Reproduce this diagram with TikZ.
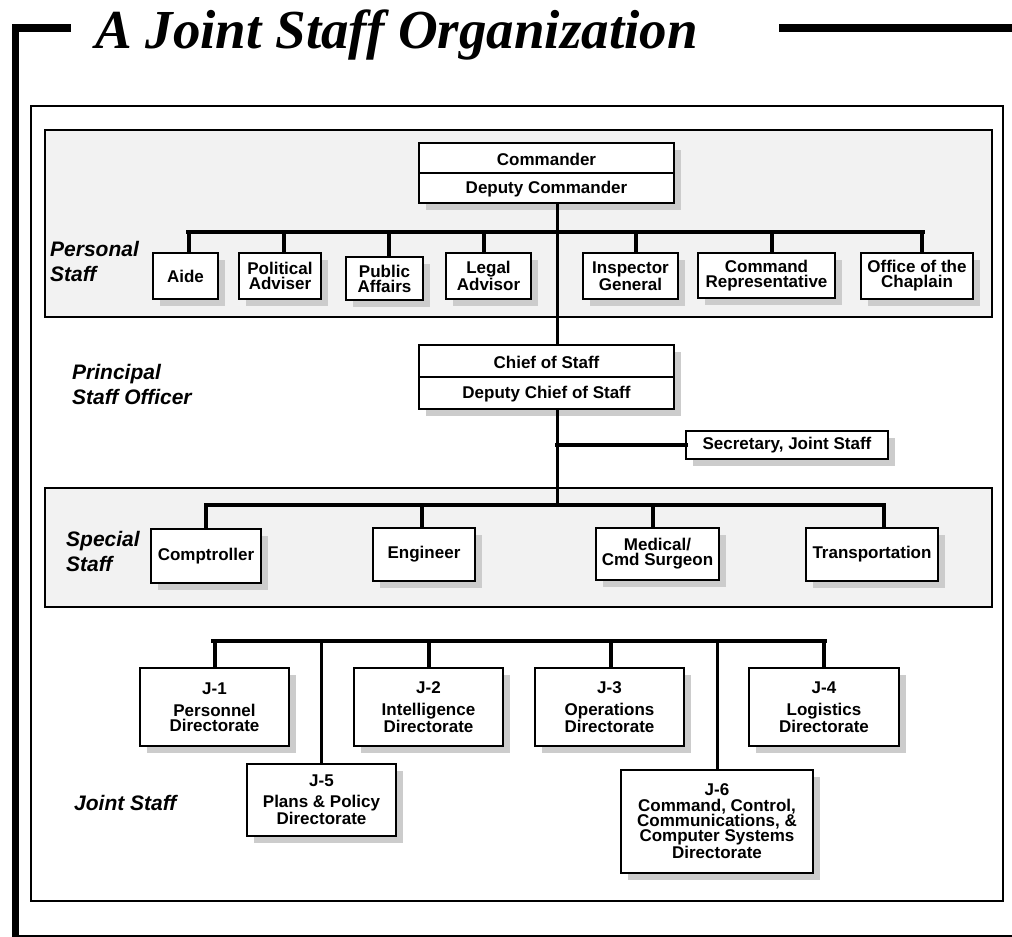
\documentclass[tikz,border=0pt]{standalone}
\usepackage{fontspec}
\setmainfont{Liberation Sans}
\newfontfamily\titlefont{Liberation Serif}
\usetikzlibrary{shadows,calc}
\newcommand\obox[6]{\node[box, minimum width={(#4)-(#2)}, minimum height={(#5)-(#3)}] (#1) at ({((#2)+(#4))/2},{((#3)+(#5))/2}) {#6};}
\begin{document}
\begin{tikzpicture}[x=1pt,y=-1pt,
  box/.style={draw=black, line width=1.6pt, fill=white, inner sep=0pt, outer sep=0pt, align=center,
    font=\bfseries\fontsize{17}{15}\selectfont,
    general shadow={fill=black!20, shadow xshift=7pt, shadow yshift=-7pt}},
  txt/.style={inner sep=0pt, font=\bfseries\fontsize{17}{15}\selectfont},
  lab/.style={inner sep=0pt, anchor=west, align=left, font=\bfseries\itshape\fontsize{21}{25}\selectfont},
  panel/.style={draw=black, line width=1.6pt, fill=black!5},
  bus/.style={line width=4pt, line cap=rect},
  drop/.style={line width=3.6pt},
  trunk/.style={line width=3pt},
  divider/.style={line width=1.6pt}]
\useasboundingbox (0,0) rectangle (1012,937);
% outer frame
\fill (12,24) rectangle (71,32);
\fill (12,24) rectangle (19,937);
\fill (12,934.5) rectangle (1012,937);
\fill (779,23.5) rectangle (1012,31.5);
\node[anchor=base west, inner sep=0pt, font=\titlefont\bfseries\itshape\fontsize{55}{60}\selectfont] (title) at (95,48) {A Joint Staff Organization};
% inner frame
\draw[line width=1.6pt] (31,106) rectangle (1003,901);
% panels
\draw[panel] (45,130) rectangle (992,317);
\draw[panel] (45,488) rectangle (992,607);
% labels
\node[lab] (lpers) at (50,261) {Personal\\Staff};
\node[lab] (lprin) at (72,384) {Principal\\Staff Officer};
\node[lab] (lspec) at (66,551) {Special\\Staff};
\node[lab] (ljoint) at (74,803) {Joint Staff};
% coordinates
\coordinate (tr) at (557,0);
\coordinate (pbL) at (188,232); \coordinate (pbR) at (923,232);
\coordinate (pA) at (189,232); \coordinate (pB) at (284,232); \coordinate (pC) at (389,232);
\coordinate (pD) at (484,232); \coordinate (pE) at (636,232); \coordinate (pF) at (772,232);
\coordinate (pG) at (922,232);
\coordinate (secj) at (557,445);
\coordinate (sbL) at (206,505); \coordinate (sbR) at (884,505); \coordinate (sbC) at (557,505);
\coordinate (sA) at (206,505); \coordinate (sB) at (422,505); \coordinate (sC) at (653,505); \coordinate (sD) at (884,505);
\coordinate (jbL) at (213,641); \coordinate (jbR) at (825,641);
\coordinate (j1) at (215,641); \coordinate (j2) at (429,641); \coordinate (j3) at (611,641);
\coordinate (j4) at (824,641); \coordinate (j5) at (321,641); \coordinate (j6) at (717,641);
% boxes
\obox{cmd}{419}{143}{674}{203}{}
\obox{aide}{153}{253}{218}{299}{Aide}
\obox{pol}{239}{253}{321}{299}{Political\\Adviser}
\obox{pub}{346}{257}{423}{300}{Public\\Affairs}
\obox{legal}{446}{253}{531}{299}{Legal\\Advisor}
\obox{insp}{583}{253}{678}{299}{Inspector\\General}
\obox{crep}{698}{253}{835}{298}{Command\\Representative}
\obox{chap}{861}{253}{973}{299}{Office of the\\Chaplain}
\obox{chief}{419}{345}{674}{409}{}
\obox{sec}{686}{431}{888}{459}{Secretary, Joint Staff}
\obox{comp}{151}{529}{261}{583}{Comptroller}
\obox{eng}{373}{528}{475}{581}{Engineer}
\obox{med}{596}{528}{719}{580}{Medical/\\Cmd Surgeon}
\obox{trans}{806}{528}{938}{581}{Transportation}
\obox{jone}{140}{668}{289}{746}{J-1\\[7pt]Personnel\\Directorate}
\obox{jtwo}{354}{668}{503}{746}{J-2\\[7pt]Intelligence\\Directorate}
\obox{jthree}{535}{668}{684}{746}{J-3\\[7pt]Operations\\Directorate}
\obox{jfour}{749}{668}{899}{746}{J-4\\[7pt]Logistics\\Directorate}
\obox{jfive}{247}{764}{396}{836}{J-5\\[6pt]Plans \& Policy\\Directorate}
\obox{jsix}{621}{770}{813}{873}{J-6\\[1pt]Command, Control,\\Communications, \&\\Computer Systems\\Directorate}
% split boxes
\coordinate (cmdm) at (0,173);
\draw[divider] (cmd.west |- cmdm) -- (cmd.east |- cmdm);
\node[txt] (cmdA) at (546.5,159) {Commander};
\node[txt] (cmdB) at (546.5,189) {Deputy Commander};
\coordinate (chfm) at (0,377);
\draw[divider] (chief.west |- chfm) -- (chief.east |- chfm);
\node[txt] (chfA) at (546.5,362) {Chief of Staff};
\node[txt] (chfB) at (546.5,394) {Deputy Chief of Staff};
% connectors
\draw[trunk] (cmd.south -| tr) -- (chief.north -| tr);
\draw[trunk] (chief.south -| tr) -- (sbC);
\draw[bus] (pbL) -- (pbR);
\foreach \c/\n in {pA/aide,pB/pol,pC/pub,pD/legal,pE/insp,pF/crep,pG/chap}
  \draw[drop] (\c) -- (\n.north -| \c);
\draw[bus] (secj) -- (sec.west);
\draw[bus] (sbL) -- (sbR);
\foreach \c/\n in {sA/comp,sB/eng,sC/med,sD/trans}
  \draw[drop] (\c) -- (\n.north -| \c);
\draw[bus] (jbL) -- (jbR);
\foreach \c/\n in {j1/jone,j2/jtwo,j3/jthree,j4/jfour}
  \draw[drop] (\c) -- (\n.north -| \c);
\foreach \c/\n in {j5/jfive,j6/jsix}
  \draw[trunk] (\c) -- (\n.north -| \c);
\end{tikzpicture}
\end{document}
